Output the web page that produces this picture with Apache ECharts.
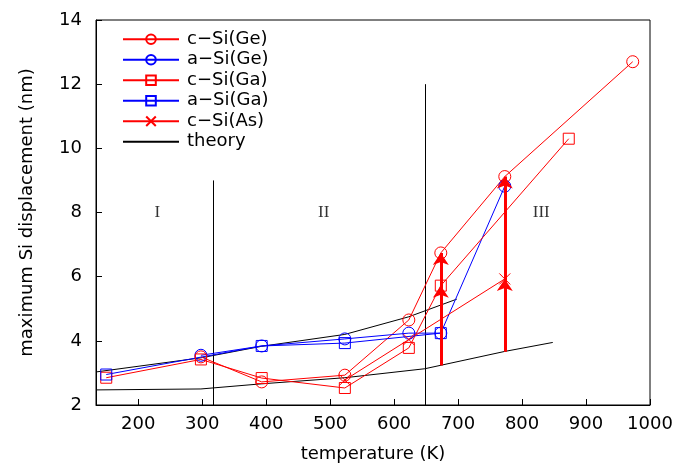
<!DOCTYPE html>
<html><head><meta charset="utf-8">
<script src="https://cdn.jsdelivr.net/npm/echarts@6/dist/echarts.min.js"></script>
<style>html,body{margin:0;padding:0;background:#fff}#c{width:676px;height:468px}</style>
</head><body><div id="c"></div>
<script>
// Tick labels
const xTicks = [200, 300, 400, 500, 600, 700, 800, 900, 1000];
// Series: [temperature K, displacement nm]
const cSiGe = [[298, 3.5], [393, 2.72], [523, 2.93], [623, 4.65], [673, 6.74], [773, 9.12], [973, 12.7]];
const aSiGe = [[298, 3.55], [393, 3.84], [523, 4.06], [623, 4.24], [673, 4.24], [773, 8.82]];
const cSiGa = [[150, 2.85], [298, 3.42], [393, 2.84], [523, 2.53], [623, 3.78], [673, 5.72], [873, 10.3]];
const aSiGa = [[150, 2.95], [393, 3.84], [523, 3.93], [673, 4.24]];
const cSiAs = [[523, 2.78], [623, 4.04], [773, 5.93]];
const theoryUpper = [[134, 3.03], [298, 3.47], [393, 3.83], [523, 4.2], [623, 4.75], [698, 5.3]];
const theoryLower = [[134, 2.47], [298, 2.5], [393, 2.66], [523, 2.85], [648, 3.13], [773, 3.67], [848, 3.95]];
// arrows: [x, from, to]
const arrows = [[673, 3.24, 5.72], [673, 3.24, 6.74], [773, 3.67, 5.93], [773, 3.67, 9.12]];
// region boundaries: [x, top]
const regionLines = [[318, 9], [648, 12]];
const regionLabels = [[230, 8, 'I'], [490, 8, 'II'], [830, 8, 'III']];

const F = 'DejaVu Sans';
const RED = '#ff0000', BLUE = '#0000ff';
const XPATH = 'path://M0,0L10,10M10,0L0,10';

function dataSeries(name, data, color, symbol, size) {
  return {
    name, type: 'line', data, symbol, symbolSize: size, showSymbol: true,
    lineStyle: { color, width: 1 },
    itemStyle: { color: 'rgba(255,255,255,0)', borderColor: color, borderWidth: 1 },
    emphasis: { disabled: true }, animation: false, z: 3
  };
}

const chart = echarts.init(document.getElementById('c'), null, { renderer: 'canvas' });
chart.setOption({
  backgroundColor: '#fff',
  animation: false,
  grid: { left: 96, right: 26, top: 20, bottom: 62, show: true, borderColor: '#000', borderWidth: 1, backgroundColor: 'transparent' },
  legend: {
    orient: 'vertical', left: 117, top: 25,
    itemWidth: 56, itemHeight: 12, itemGap: 2,
    data: ['c−Si(Ge)', 'a−Si(Ge)', 'c−Si(Ga)', 'a−Si(Ga)', 'c−Si(As)',
      { name: 'theory', itemStyle: { opacity: 0 } }],
    textStyle: { fontFamily: F, fontSize: 18, color: '#000', lineHeight: 18.5, padding: [0, 0, 0, 3] },
    selectedMode: false
  },
  xAxis: {
    type: 'value', min: 134, max: 1000,
    name: 'temperature (K)', nameLocation: 'middle', nameGap: 40,
    nameTextStyle: { fontFamily: F, fontSize: 18, color: '#000' },
    axisLine: { show: true, lineStyle: { color: '#000', width: 1 } },
    axisTick: { show: true, inside: true, length: 6, customValues: xTicks, lineStyle: { color: '#000' } },
    axisLabel: { customValues: xTicks, formatter: v => String(v), fontFamily: F, fontSize: 18, color: '#000', margin: 10 },
    splitLine: { show: false }
  },
  yAxis: {
    type: 'value', min: 2, max: 14, interval: 2,
    name: 'maximum Si displacement (nm)', nameLocation: 'middle', nameGap: 60,
    nameTextStyle: { fontFamily: F, fontSize: 18, color: '#000' },
    axisLine: { show: true, lineStyle: { color: '#000', width: 1 } },
    axisTick: { show: true, inside: true, length: 6, lineStyle: { color: '#000' } },
    axisLabel: { fontFamily: F, fontSize: 18, color: '#000', margin: 14 },
    splitLine: { show: false }
  },
  series: [
    dataSeries('c−Si(Ge)', cSiGe, RED, 'circle', 12),
    dataSeries('a−Si(Ge)', aSiGe, BLUE, 'circle', 12),
    dataSeries('c−Si(Ga)', cSiGa, RED, 'rect', 11),
    dataSeries('a−Si(Ga)', aSiGa, BLUE, 'rect', 11),
    dataSeries('c−Si(As)', cSiAs, RED, XPATH, 11),
    { name: 'theory', type: 'line', data: theoryUpper, symbol: 'none', lineStyle: { color: '#000', width: 1 }, itemStyle: { color: '#000' }, z: 2 },
    { name: 'theory', type: 'line', data: theoryLower, symbol: 'none', lineStyle: { color: '#000', width: 1 }, itemStyle: { color: '#000' }, z: 2 },
    {
      type: 'lines', coordinateSystem: 'cartesian2d', z: 4,
      symbol: ['none', 'arrow'], symbolSize: [7, 12],
      lineStyle: { color: RED, width: 3, opacity: 1 },
      data: arrows.map(a => ({ coords: [[a[0], a[1]], [a[0], a[2]]] }))
    },
    {
      type: 'lines', coordinateSystem: 'cartesian2d', z: 2,
      symbol: 'none',
      lineStyle: { color: '#000', width: 1, opacity: 1 },
      data: regionLines.map(r => ({ coords: [[r[0], 2], [r[0], r[1]]] }))
    },
    {
      type: 'scatter', symbolSize: 1, z: 5,
      itemStyle: { color: 'rgba(0,0,0,0)' },
      label: { show: true, position: 'inside', formatter: p => p.value[2], fontFamily: 'Liberation Serif', fontSize: 17, color: '#000' },
      data: regionLabels
    }
  ]
});
</script></body></html>
